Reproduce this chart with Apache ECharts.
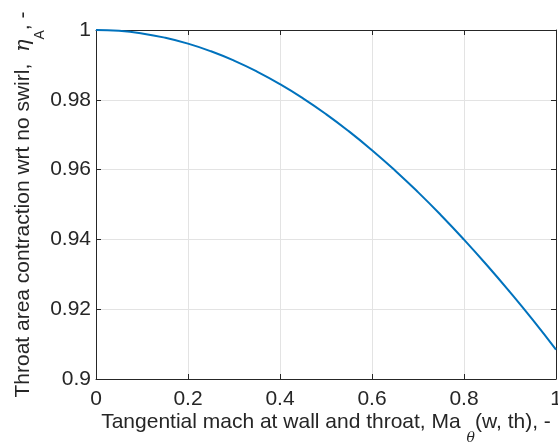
<!DOCTYPE html>
<html>
<head>
<meta charset="utf-8">
<script src="https://cdn.jsdelivr.net/npm/echarts@6/dist/echarts.min.js"></script>
<style>html,body{margin:0;padding:0;background:#fff;}#c{width:558px;height:448px;}</style>
</head>
<body>
<div id="c"></div>
<script>
const machTheta = [0, 0.05, 0.1, 0.15, 0.2, 0.25, 0.3, 0.35, 0.4, 0.45, 0.5, 0.55, 0.6, 0.65, 0.7, 0.75, 0.8, 0.85, 0.9, 0.95, 1.0];
const etaA = [1.0, 0.99976, 0.99902, 0.9978, 0.9961, 0.9939, 0.99123, 0.98809, 0.98449, 0.98042, 0.97591, 0.97095, 0.96556, 0.95976, 0.95354, 0.94693, 0.93994, 0.93259, 0.92488, 0.91685, 0.9084];
const xTicks = [0, 0.2, 0.4, 0.6, 0.8, 1];
const yTicks = [0.9, 0.92, 0.94, 0.96, 0.98, 1];

const FONT = 'Liberation Sans, Arial, sans-serif';
const AX = '#262626';
const GRIDC = '#e3e3e3';
const fmt = v => String(+v.toFixed(2));

const chart = echarts.init(document.getElementById('c'), null, {renderer: 'canvas'});
const baseAxis = {
  axisLine: {show: true, onZero: false, lineStyle: {color: AX, width: 1}},
  axisTick: {show: true, inside: true, length: 5, lineStyle: {color: AX}},
  splitLine: {show: false},
};
chart.setOption({
  animation: false,
  backgroundColor: '#fff',
  grid: {left: 96, right: 2, top: 30, bottom: 69, containLabel: false, outerBoundsMode: 'none'},
  xAxis: [
    Object.assign({}, baseAxis, {
      type: 'value', min: 0, max: 1, interval: 0.2, position: 'bottom',
      axisLabel: {color: AX, fontFamily: FONT, fontSize: 21, margin: 10, formatter: fmt},
      splitLine: {show: true, lineStyle: {color: GRIDC, width: 1}},
      name: '{t|Tangential mach at wall and throat, Ma }{s|θ}{t|(w, th), -}',
      nameLocation: 'middle', nameGap: 33, nameMoveOverlap: false,
      nameTextStyle: {
        rich: {
          t: {fontFamily: FONT, fontSize: 21, color: AX, lineHeight: 30, verticalAlign: 'top'},
          s: {fontFamily: 'DejaVu Serif, serif', fontStyle: 'italic', fontSize: 14, color: AX, lineHeight: 30, verticalAlign: 'bottom', padding: [0, 0, -3, 0]}
        }
      }
    }),
    Object.assign({}, baseAxis, {
      type: 'value', min: 0, max: 1, interval: 0.2, position: 'top',
      axisLabel: {show: false}
    })
  ],
  yAxis: [
    Object.assign({}, baseAxis, {
      type: 'value', min: 0.9, max: 1, interval: 0.02, position: 'left',
      axisLabel: {color: AX, fontFamily: FONT, fontSize: 21, margin: 5, formatter: fmt},
      splitLine: {show: true, lineStyle: {color: GRIDC, width: 1}},
      name: '{t|Throat area contraction wrt no swirl,  }{e|η}{s|A}{t|, -}',
      nameLocation: 'middle', nameGap: 53, nameMoveOverlap: false,
      nameTextStyle: {
        rich: {
          t: {fontFamily: FONT, fontSize: 21, color: AX, lineHeight: 30, verticalAlign: 'top'},
          e: {fontFamily: 'DejaVu Serif, serif', fontStyle: 'italic', fontSize: 21, color: AX, lineHeight: 30, verticalAlign: 'top'},
          s: {fontFamily: FONT, fontSize: 14, color: AX, lineHeight: 30, verticalAlign: 'bottom', padding: [0, 0, -4, 0]}
        }
      }
    }),
    Object.assign({}, baseAxis, {
      type: 'value', min: 0.9, max: 1, interval: 0.02, position: 'right',
      axisLabel: {show: false}
    })
  ],
  series: [{
    type: 'line',
    xAxisIndex: 0, yAxisIndex: 0,
    data: machTheta.map((x, i) => [x, etaA[i]]),
    smooth: true,
    showSymbol: false,
    lineStyle: {color: '#0072BD', width: 2},
    clip: false
  }]
});
</script>
</body>
</html>
